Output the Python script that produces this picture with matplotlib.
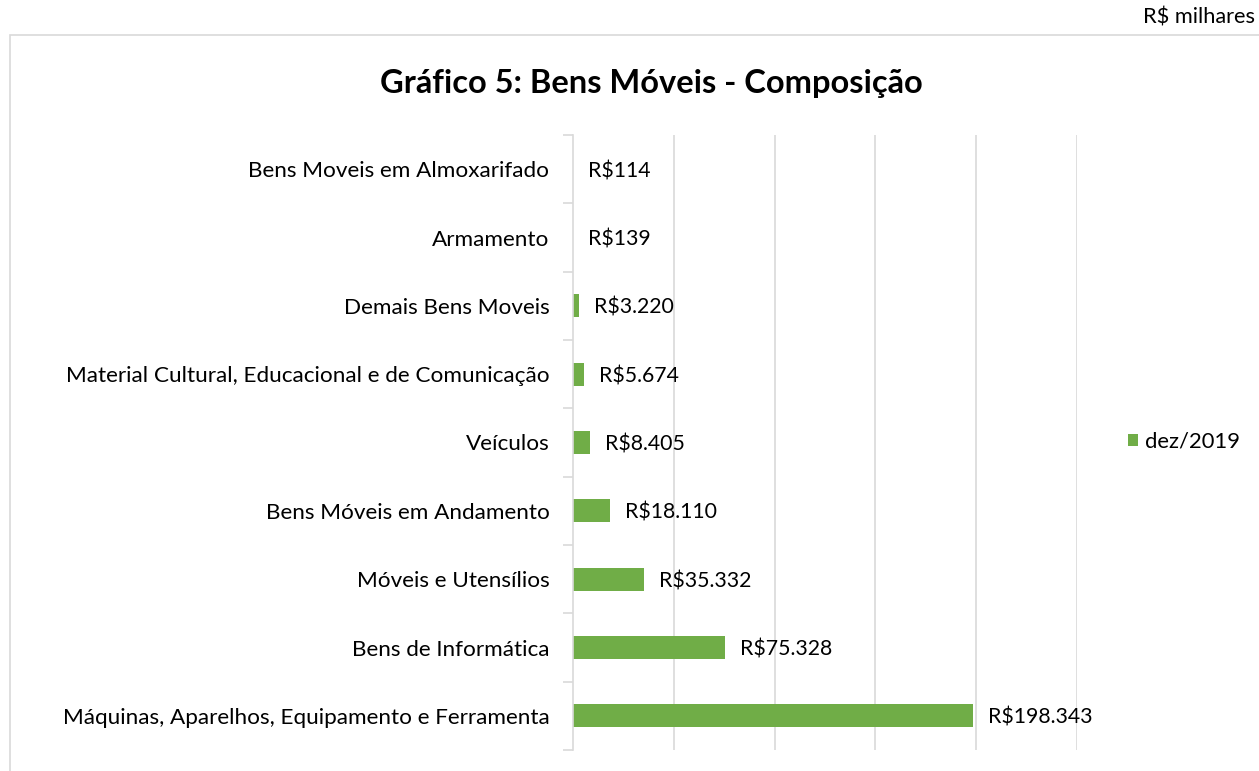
import numpy as np
import matplotlib
matplotlib.use('Agg')
import matplotlib.pyplot as plt
from matplotlib.patches import Rectangle

categorias = ['Máquinas, Aparelhos, Equipamento e Ferramenta',
              'Bens de Informática',
              'Móveis e Utensílios',
              'Bens Móveis em Andamento',
              'Veículos',
              'Material Cultural, Educacional e de Comunicação',
              'Demais Bens Moveis',
              'Armamento',
              'Bens Moveis em Almoxarifado']
valores = [198343, 75328, 35332, 18110, 8405, 5674, 3220, 139, 114]
serie = 'dez/2019'

verde = '#70AD47'
cinza = '#D9D9D9'
plt.rcParams['font.family'] = ['Lato', 'DejaVu Sans']

def fmt(v):
    return 'R$' + '{:,}'.format(v).replace(',', '.')

fig = plt.figure(figsize=(12.59, 7.71), dpi=100)
# moldura do grafico
fig.patches.append(Rectangle((10/1259, -0.01), 1.0, 1 - 35/771 + 0.01,
                             transform=fig.transFigure, fill=False,
                             edgecolor=cinza, linewidth=1.2))

ax = fig.add_axes([573/1259, 21/771, 504/1259, 615/771])
y = np.arange(len(categorias))
barras = ax.barh(y, valores, height=0.34, color=verde, label=serie)

for yi, v in zip(y, valores):
    ax.annotate(fmt(v), (v, yi), xytext=(15, -2), textcoords='offset pixels',
                va='center', ha='left', fontsize=15.3, color='#000000')

ax.set_xlim(0, 250000)
ax.set_ylim(-0.5, len(categorias) - 0.5)
ax.set_xticks(np.arange(50000, 250001, 50000))
ax.xaxis.grid(True, color=cinza, linewidth=1.2)
ax.set_axisbelow(True)
ax.tick_params(axis='x', length=0, labelbottom=False)

ax.set_yticks(np.arange(-0.5, len(categorias), 1.0))
ax.set_yticklabels([])
ax.set_yticks(y, minor=True)
ax.set_yticklabels(categorias, minor=True, fontsize=16.2)
ax.tick_params(axis='y', which='major', length=7, color=cinza, width=1.2)
ax.tick_params(axis='y', which='minor', length=0, pad=17)

for s in ['top', 'right', 'bottom']:
    ax.spines[s].set_visible(False)
ax.spines['left'].set_color(cinza)
ax.spines['left'].set_linewidth(1.2)

fig.text(651/1259, 1 - 84/771, 'Gráfico 5: Bens Móveis - Composição',
         ha='center', va='center', fontsize=23.5, fontweight='bold')
fig.text(1255/1259, 1 - 18/771, 'R$ milhares', ha='right', va='center',
         fontsize=15.7)

fig.legend(handles=[barras], labels=[serie], loc='center left',
           bbox_to_anchor=(1108/1259, 1 - 442/771), frameon=False,
           fontsize=15.8, handlelength=0.45, handleheight=0.45,
           handletextpad=0.35)

fig.savefig('out.png', dpi=100)
